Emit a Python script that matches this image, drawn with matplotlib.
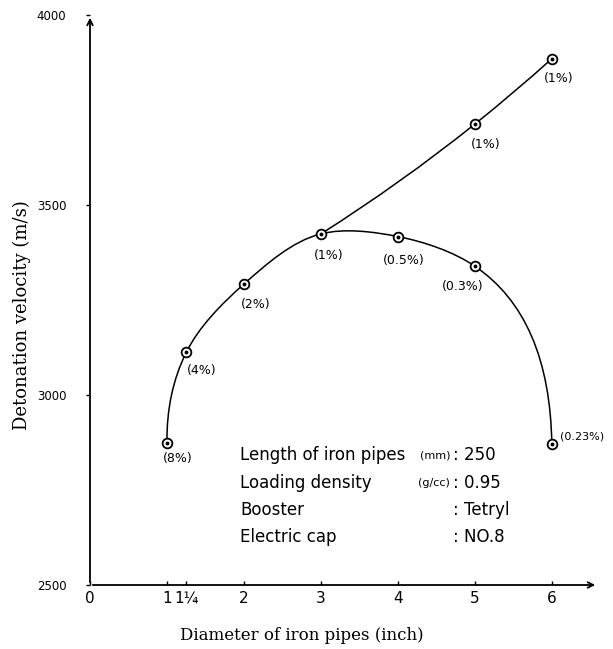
import numpy as np
import matplotlib
matplotlib.use("Agg")
import matplotlib.pyplot as plt
from matplotlib.path import Path
from matplotlib.patches import PathPatch

# lower curve: diameter (inch) vs detonation velocity (m/s)
dia_low = [1, 1.25, 2, 3, 4, 5, 6]
vel_low = [2875, 3112, 3292, 3424, 3417, 3339, 2870]
lab_low = ["(8%)", "(4%)", "(2%)", "(1%)", "(0.5%)", "(0.3%)", "(0.23%)"]

# upper branch
dia_up = [3, 5, 6]
vel_up = [3424, 3713, 3885]
lab_up = [None, "(1%)", "(1%)"]

xticks = [0, 1, 1.25, 2, 3, 4, 5, 6]
xticklabels = ["0", "1", "1¼", "2", "3", "4", "5", "6"]
yticks = [2500, 3000, 3500, 4000]

info_keys = ["Length of iron pipes", "Loading density", "Booster", "Electric cap"]
info_units = ["(mm)", "(g/cc)", "", ""]
info_vals = [": 250", ": 0.95", ": Tetryl", ": NO.8"]

# pixel scale of the axes, used only to make the curve look round on screen
SX, SY = 77.0, 0.38


def smooth_path(xs, ys):
    """Cubic Bezier through the points, Bessel tangents in screen scale."""
    P = np.column_stack([np.asarray(xs) * SX, np.asarray(ys) * SY])
    d = P[1:] - P[:-1]
    h = np.hypot(d[:, 0], d[:, 1])
    delta = d / h[:, None]
    n = len(P)
    m = np.zeros_like(P)
    for i in range(1, n - 1):
        m[i] = (h[i] * delta[i - 1] + h[i - 1] * delta[i]) / (h[i - 1] + h[i])
    m[0] = 2 * delta[0] - m[1]
    m[-1] = 2 * delta[-1] - m[-2]
    verts = [P[0]]
    codes = [Path.MOVETO]
    for i in range(n - 1):
        verts += [P[i] + m[i] * h[i] / 3, P[i + 1] - m[i + 1] * h[i] / 3, P[i + 1]]
        codes += [Path.CURVE4] * 3
    verts = np.array(verts) / [SX, SY]
    return Path(verts, codes)


fig = plt.figure(figsize=(6.13, 6.49), dpi=100)
ax = fig.add_axes([90 / 613, 64 / 649, 508 / 613, 570 / 649])
ax.set_xlim(0, 6.6)
ax.set_ylim(2500, 4000)
for s in ax.spines.values():
    s.set_visible(False)

# axes with arrows
ax.annotate("", xy=(6.6, 2500), xytext=(0, 2500),
            arrowprops=dict(arrowstyle="->", lw=1.3, color="black"),
            annotation_clip=False)
ax.annotate("", xy=(0, 4000), xytext=(0, 2500),
            arrowprops=dict(arrowstyle="->", lw=1.3, color="black"),
            annotation_clip=False)

hand = "DejaVu Sans"
ax.set_xticks(xticks)
ax.set_xticklabels(xticklabels, fontsize=11, family=hand)
ax.set_yticks(yticks)
ax.set_yticklabels([str(v) for v in yticks], fontsize=8.5, family=hand)
ax.tick_params(axis="x", direction="in", length=3, width=1, pad=4)
ax.tick_params(axis="y", direction="out", length=3, width=1, pad=14)

# curves
for xs, ys in [(dia_low, vel_low), (dia_up, vel_up)]:
    ax.add_patch(PathPatch(smooth_path(xs, ys), fc="none", ec="black", lw=1.1))

allx = dia_low + dia_up[1:]
ally = vel_low + vel_up[1:]
ax.plot(allx, ally, ls="none", marker="o", ms=7, mfc="white", mec="black", mew=1.3, zorder=3)
ax.plot(allx, ally, ls="none", marker="o", ms=1.8, color="black", zorder=4)

# point labels (offsets in pixels)
low_off = [(11, -16), (15, -18), (12, -20), (8, -22), (6, -24), (-12, -20), (30, 8)]
for x, y, t, o in zip(dia_low, vel_low, lab_low, low_off):
    ax.annotate(t, (x, y), xytext=o, textcoords="offset pixels",
                ha="center", va="center", fontsize=9 if len(t) < 7 else 8, family=hand,
                annotation_clip=False)
up_off = [None, (11, -20), (7, -20)]
for x, y, t, o in zip(dia_up, vel_up, lab_up, up_off):
    if t is None:
        continue
    ax.annotate(t, (x, y), xytext=o, textcoords="offset pixels",
                ha="center", va="center", fontsize=9, family=hand)

# condition block
info_y = [2842, 2768, 2697, 2626]
for k, u, v, y in zip(info_keys, info_units, info_vals, info_y):
    ax.text(1.95, y, k, fontsize=12, family=hand, va="center")
    if u:
        ax.text(4.68, y, u, fontsize=8, family=hand, va="center", ha="right")
    ax.text(4.72, y, v, fontsize=12, family=hand, va="center")

fig.text(22 / 613, 1 - 315 / 649, "Detonation velocity (m/s)", rotation=90,
         ha="center", va="center", fontsize=13, family="DejaVu Serif")
fig.text(302 / 613, 1 - 635 / 649, "Diameter of iron pipes (inch)",
         ha="center", va="center", fontsize=12, family="DejaVu Serif")

fig.savefig("out.png", dpi=100)
